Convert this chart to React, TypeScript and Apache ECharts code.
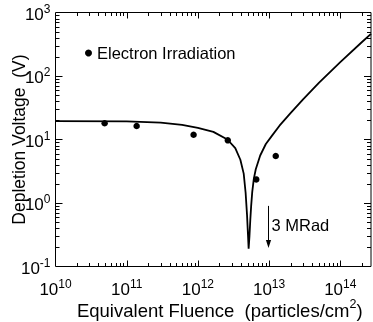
import React, { useEffect, useRef } from 'react';
import * as echarts from 'echarts';

// Fitted curve
const fitFluence = [
  1e10, 1e11, 3e11, 6e11, 1e12, 1.65e12, 2.6e12, 3.35e12, 3.95e12, 4.4e12, 4.68e12, 4.9e12, 5.05e12, 5.16e12,
  5.3e12, 5.45e12, 5.6e12, 5.8e12, 6.1e12, 6.5e12, 7.5e12, 9e12, 1.1e13, 1.4e13, 2e13, 3e13, 5e13, 1e14, 2e14, 2.7e14,
];
const fitVoltage = [
  19.5, 19.3, 18.5, 17.0, 15.3, 13.2, 10.0, 7.3, 4.8, 2.9, 1.45, 0.65, 0.32, 0.19,
  0.3, 0.55, 0.9, 1.5, 2.4, 3.4, 5.6, 8.5, 11.5, 16.5, 26, 43, 78, 165, 340, 460,
];

// Measured points
const pointFluence = [4.9e10, 1.38e11, 8.7e11, 2.63e12, 6.6e12, 1.24e13];
const pointVoltage = [18.0, 16.3, 11.9, 9.7, 2.35, 5.5];

const seriesName = 'Electron Irradiation';
const xTickExponents = [10, 11, 12, 13, 14];
const yTickExponents = [-1, 0, 1, 2, 3];
const xMin = 1e10;
const xMax = 2.7e14;
const yMin = 0.1;
const yMax = 1000;

const arrowFluence = 9.7e12;
const arrowTop = 0.9;
const arrowBottom = 0.195;
const annotationText = '3 MRad';
const annotationVoltage = 0.45;

const FONT = 'Liberation Sans';

function powLabel(exps: number[]) {
  return (v: number) => {
    const l = Math.log10(v);
    const e = Math.round(l);
    if (Math.abs(l - e) > 1e-6 || !exps.includes(e)) return '';
    return `{b|10}{s|${e}}`;
  };
}

const richLabel = {
  b: { fontSize: 17, fontFamily: FONT, color: '#000', verticalAlign: 'bottom' },
  s: { fontSize: 12, fontFamily: FONT, color: '#000', verticalAlign: 'bottom', padding: [0, 0, 8, 0] },
};

export default function App() {
  const ref = useRef<HTMLDivElement>(null);
  useEffect(() => {
    if (!ref.current) return;
    const chart = echarts.init(ref.current, null, { renderer: 'svg' });
    const line = (x1: number, y1: number, x2: number, y2: number) => ({
      type: 'line',
      shape: { x1, y1, x2, y2 },
      style: { stroke: '#000', lineWidth: 1 },
    });
    chart.setOption({
      animation: false,
      textStyle: { fontFamily: FONT, color: '#000' },
      grid: {
        left: 55.5, right: 2, top: 12.5, bottom: 55.5,
        containLabel: false, outerBoundsMode: 'none',
        show: true, borderColor: '#000', borderWidth: 1, backgroundColor: 'transparent',
      },
      legend: {
        data: [seriesName],
        left: 85,
        top: 44.5,
        padding: 0,
        icon: 'circle',
        itemWidth: 7,
        itemHeight: 7,
        textStyle: { fontSize: 16.5, color: '#000', fontFamily: FONT },
      },
      xAxis: {
        type: 'log',
        logBase: 10,
        min: xMin,
        max: xMax,
        axisLine: { show: false },
        axisTick: { show: false },
        splitLine: { show: false },
        axisLabel: { formatter: powLabel(xTickExponents), rich: richLabel, margin: 11, showMaxLabel: false },
        name: '{n|Equivalent Fluence  (particles/cm}{s|2}{n|)}',
        nameLocation: 'middle',
        nameMoveOverlap: false,
        nameGap: 31,
        nameTextStyle: {
          padding: [0, 0, 0, 13],
          rich: {
            n: { fontSize: 18.5, fontFamily: FONT, color: '#000', verticalAlign: 'bottom' },
            s: { fontSize: 12.5, fontFamily: FONT, color: '#000', verticalAlign: 'bottom', padding: [0, 0, 9, 0] },
          },
        },
      },
      yAxis: {
        type: 'log',
        logBase: 10,
        min: yMin,
        max: yMax,
        axisLine: { show: false },
        axisTick: { show: false },
        splitLine: { show: false },
        axisLabel: { formatter: powLabel(yTickExponents), rich: richLabel, margin: 5 },
        name: 'Depletion Voltage  (V)',
        nameLocation: 'middle',
        nameMoveOverlap: false,
        nameGap: 28,
        nameTextStyle: { fontSize: 17.5, fontFamily: FONT, color: '#000' },
      },
      series: [
        {
          type: 'custom',
          silent: true,
          clip: false,
          data: [[xMin, yMin]],
          encode: { x: 0, y: 1 },
          renderItem: (params: any, api: any) => {
            const cs = params.coordSys;
            const left = cs.x;
            const top = cs.y;
            const right = cs.x + cs.width;
            const bottom = cs.y + cs.height;
            const children: any[] = [];
            for (let k = 10; k <= 14; k++) {
              for (let m = 1; m <= 9; m++) {
                const v = m * Math.pow(10, k);
                if (v <= xMin || v >= xMax) continue;
                const px = Math.round(api.coord([v, yMin])[0]) + 0.5;
                const len = m === 1 ? 6 : 3.5;
                children.push(line(px, bottom, px, bottom - len));
                children.push(line(px, top, px, top + len));
              }
            }
            for (let k = -1; k <= 2; k++) {
              for (let m = 1; m <= 9; m++) {
                const v = m * Math.pow(10, k);
                if (v <= yMin || v >= yMax) continue;
                const py = Math.round(api.coord([xMin, v])[1]) + 0.5;
                const len = m === 1 ? 7 : 4;
                children.push(line(left, py, left + len, py));
                children.push(line(right, py, right - len, py));
              }
            }
            // annotation arrow and text
            const a0 = api.coord([arrowFluence, arrowTop]);
            const a1 = api.coord([arrowFluence, arrowBottom]);
            const ax = Math.round(a0[0]) + 0.5;
            children.push(line(ax, a0[1], ax, a1[1] - 6));
            children.push({
              type: 'polygon',
              shape: { points: [[ax - 2.6, a1[1] - 8], [ax + 2.6, a1[1] - 8], [ax, a1[1]]] },
              style: { fill: '#000' },
            });
            const t = api.coord([arrowFluence, annotationVoltage]);
            children.push({
              type: 'text',
              x: ax + 3,
              y: t[1],
              style: { text: annotationText, fontSize: 16.5, fontFamily: FONT, fill: '#000', align: 'left', verticalAlign: 'middle' },
            });
            return { type: 'group', children };
          },
          z: 5,
        },
        {
          type: 'line',
          name: 'fit',
          data: fitFluence.map((f, i) => [f, fitVoltage[i]]),
          showSymbol: false,
          symbol: 'none',
          lineStyle: { color: '#000', width: 1.8 },
          z: 3,
        },
        {
          type: 'scatter',
          name: seriesName,
          data: pointFluence.map((f, i) => [f, pointVoltage[i]]),
          symbol: 'circle',
          symbolSize: 6.5,
          itemStyle: { color: '#000', opacity: 1 },
          z: 4,
        },
      ],
    });
    return () => chart.dispose();
  }, []);
  return <div ref={ref} style={{ position: 'fixed', left: 0, top: 0, width: 373, height: 322 }} />;
}
